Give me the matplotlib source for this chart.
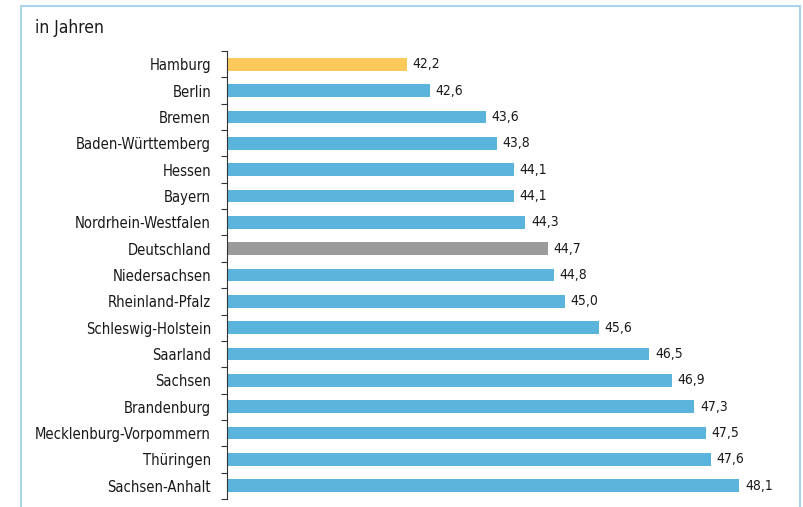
import matplotlib
matplotlib.use("Agg")
import matplotlib.pyplot as plt
from matplotlib.patches import Rectangle

# Durchschnittsalter nach Bundesland, in Jahren
laender = ["Hamburg", "Berlin", "Bremen", "Baden-Württemberg", "Hessen", "Bayern",
           "Nordrhein-Westfalen", "Deutschland", "Niedersachsen", "Rheinland-Pfalz",
           "Schleswig-Holstein", "Saarland", "Sachsen", "Brandenburg",
           "Mecklenburg-Vorpommern", "Thüringen", "Sachsen-Anhalt"]
alter = [42.2, 42.6, 43.6, 43.8, 44.1, 44.1, 44.3, 44.7, 44.8, 45.0,
         45.6, 46.5, 46.9, 47.3, 47.5, 47.6, 48.1]

BLUE = "#5ab4dc"
YELLOW = "#fdc95a"
GREY = "#9b9b9b"
TEXT = "#1a1a1a"

plt.rcParams["font.family"] = ["DejaVu Sans"]
plt.rcParams["font.stretch"] = "condensed"

colors = []
for name in laender:
    if name == "Hamburg":
        colors.append(YELLOW)
    elif name == "Deutschland":
        colors.append(GREY)
    else:
        colors.append(BLUE)

fig = plt.figure(figsize=(8.04, 5.07), dpi=100)
ax = fig.add_axes([227 / 804, 8 / 507, 563 / 804, 448 / 507])

x0 = 39.0
ypos = list(range(len(laender)))
ax.barh(ypos, [a - x0 for a in alter], left=x0, height=0.48, color=colors)

for y, a in zip(ypos, alter):
    ax.text(a + 0.1, y, f"{a:.1f}".replace(".", ","), va="center", ha="left",
            fontsize=10, color=TEXT, fontstretch="condensed")

ax.set_xlim(x0, 49.0)
ax.set_ylim(len(laender) - 0.5, -0.5)
ax.set_yticks(ypos)
ax.set_yticklabels(laender, fontsize=10.6, color=TEXT)
ax.set_yticks([i - 0.5 for i in range(len(laender) + 1)], minor=True)
ax.tick_params(axis="y", which="major", length=0, pad=11.5)
ax.tick_params(axis="y", which="minor", length=4, width=0.8, color="#333333")
ax.set_xticks([])
for side in ("top", "right", "bottom"):
    ax.spines[side].set_visible(False)
ax.spines["left"].set_color("#333333")
ax.spines["left"].set_linewidth(0.8)

fig.text(35 / 804, 1 - 28 / 507, "in Jahren", fontsize=12.5, color=TEXT,
         va="center", ha="left", fontstretch="condensed")

frame = Rectangle((21 / 804, -0.05), 779 / 804, 1.05 - 6 / 507,
                  transform=fig.transFigure, fill=False,
                  edgecolor="#a9d5ea", linewidth=1.5)
fig.patches.append(frame)

fig.savefig("out.png", dpi=100)
